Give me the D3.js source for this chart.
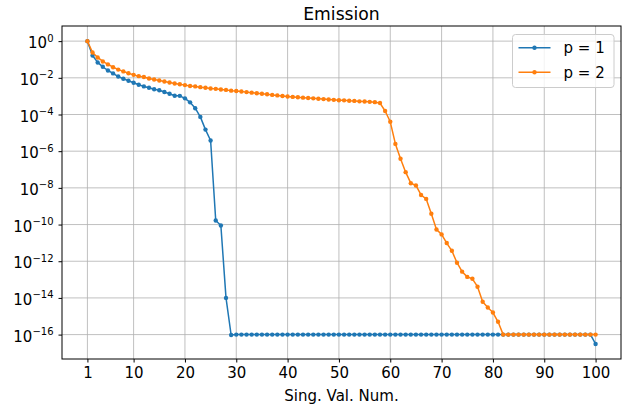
<!DOCTYPE html>
<html>
<head>
<meta charset="utf-8">
<script src="https://cdn.jsdelivr.net/npm/d3@7"></script>
<style>
  body { margin: 0; background: #fff; }
  svg { display: block; font-family: "DejaVu Sans", sans-serif; }
</style>
</head>
<body>
<div id="chart"></div>
<script>
// singular value index 1..100
const index = d3.range(1, 101);

// p = 1
const p1 = [
  1.0, 1.66e-1, 6.9e-2, 3.98e-2, 2.51e-2, 1.74e-2, 1.17e-2, 8.9e-3, 6.9e-3, 5.4e-3,
  4.2e-3, 3.4e-3, 2.9e-3, 2.4e-3, 2.1e-3, 1.7e-3, 1.35e-3, 1.05e-3, 1.04e-3, 7.6e-4,
  4.6e-4, 2.2e-4, 7.4e-5, 1.5e-5, 3.8e-6, 1.66e-10, 8.9e-11, 1.0e-14, 9.5e-17, 1e-16,
  1e-16, 1e-16, 1e-16, 1e-16, 1e-16, 1e-16, 1e-16, 1e-16, 1e-16, 1e-16,
  1e-16, 1e-16, 1e-16, 1e-16, 1e-16, 1e-16, 1e-16, 1e-16, 1e-16, 1e-16,
  1e-16, 1e-16, 1e-16, 1e-16, 1e-16, 1e-16, 1e-16, 1e-16, 1e-16, 1e-16,
  1e-16, 1e-16, 1e-16, 1e-16, 1e-16, 1e-16, 1e-16, 1e-16, 1e-16, 1e-16,
  1e-16, 1e-16, 1e-16, 1e-16, 1e-16, 1e-16, 1e-16, 1e-16, 1e-16, 1e-16,
  1e-16, 1e-16, 1e-16, 1e-16, 1e-16, 1e-16, 1e-16, 1e-16, 1e-16, 1e-16,
  1e-16, 1e-16, 1e-16, 1e-16, 1e-16, 1e-16, 1e-16, 1e-16, 1e-16, 3.1e-17
];

// p = 2
const p2 = [
  1.0, 2.4e-1, 1.29e-1, 7.8e-2, 5.4e-2, 3.8e-2, 2.8e-2, 2.24e-2, 1.78e-2, 1.45e-2,
  1.23e-2, 1.1e-2, 9.1e-3, 8.1e-3, 7.1e-3, 6.3e-3, 5.6e-3, 4.9e-3, 4.5e-3, 4.0e-3,
  3.6e-3, 3.4e-3, 3.1e-3, 2.9e-3, 2.6e-3, 2.5e-3, 2.3e-3, 2.2e-3, 2.0e-3, 1.9e-3,
  1.8e-3, 1.66e-3, 1.55e-3, 1.45e-3, 1.35e-3, 1.26e-3, 1.17e-3, 1.1e-3, 1.02e-3, 9.5e-4,
  9.1e-4, 8.7e-4, 8.3e-4, 7.9e-4, 7.6e-4, 7.2e-4, 6.9e-4, 6.6e-4, 6.3e-4, 6.0e-4,
  5.9e-4, 5.6e-4, 5.5e-4, 5.2e-4, 5.1e-4, 4.9e-4, 4.7e-4, 4.2e-4, 1.55e-4, 4.0e-5,
  2.5e-6, 3.9e-7, 7.2e-8, 1.8e-8, 1.35e-8, 4.1e-9, 2.5e-9, 3.9e-10, 5.4e-11, 2.9e-11,
  9.8e-12, 3.7e-12, 8.3e-13, 2.7e-13, 1.4e-13, 1.1e-13, 4.1e-14, 6.2e-15, 3.0e-15, 1.6e-15,
  5.0e-16, 1e-16, 1e-16, 1e-16, 1e-16, 1e-16, 1e-16, 1e-16, 1e-16, 1e-16,
  1e-16, 1e-16, 1e-16, 1e-16, 1e-16, 1e-16, 1e-16, 1e-16, 1e-16, 1e-16
];

const seriesNames = ["p = 1", "p = 2"];
const colors = ["#1f77b4", "#ff7f0e"];
const xTicks = [1, 10, 20, 30, 40, 50, 60, 70, 80, 90, 100];
const yTickExps = [0, -2, -4, -6, -8, -10, -12, -14, -16];

const width = 629, height = 406;
const margin = { top: 26, right: 8, bottom: 47, left: 62 };

const svg = d3.select("#chart").append("svg")
  .attr("width", width)
  .attr("height", height);

const x = d3.scaleLinear()
  .domain([-3.95, 104.95])
  .range([margin.left, width - margin.right]);

const y = d3.scaleLog()
  .domain([Math.pow(10, -17.33), Math.pow(10, 0.825)])
  .range([height - margin.bottom, margin.top]);

// grid
const grid = svg.append("g").attr("stroke", "#b0b0b0").attr("stroke-width", 0.8);
grid.selectAll(".gx").data(xTicks).join("line")
  .attr("x1", d => x(d)).attr("x2", d => x(d))
  .attr("y1", margin.top).attr("y2", height - margin.bottom);
grid.selectAll(".gy").data(yTickExps).join("line")
  .attr("x1", margin.left).attr("x2", width - margin.right)
  .attr("y1", d => y(Math.pow(10, d))).attr("y2", d => y(Math.pow(10, d)));

// series
const series = [p1, p2].map((vals, i) => ({
  name: seriesNames[i],
  color: colors[i],
  points: vals.map((v, j) => ({ x: index[j], y: v }))
}));

const line = d3.line().x(d => x(d.x)).y(d => y(d.y));

const sg = svg.append("g").selectAll("g").data(series).join("g");
sg.append("path")
  .attr("d", d => line(d.points))
  .attr("fill", "none")
  .attr("stroke", d => d.color)
  .attr("stroke-width", 1.5)
  .attr("stroke-linejoin", "round");
sg.each(function(s) {
  d3.select(this).selectAll("circle").data(s.points).join("circle")
    .attr("cx", d => x(d.x))
    .attr("cy", d => y(d.y))
    .attr("r", 2.2)
    .attr("fill", s.color);
});

// axes
const xAxis = svg.append("g")
  .attr("transform", `translate(0,${height - margin.bottom})`)
  .call(d3.axisBottom(x).tickValues(xTicks).tickSize(3.5).tickPadding(4.5).tickSizeOuter(0));
xAxis.select(".domain").remove();
xAxis.selectAll("text").attr("font-size", 15).attr("font-family", "DejaVu Sans").attr("fill", "#000");

const yAxis = svg.append("g")
  .attr("transform", `translate(${margin.left},0)`)
  .call(d3.axisLeft(y).tickValues(yTickExps.map(e => Math.pow(10, e)))
    .tickSize(3.5).tickPadding(3.5).tickFormat(() => ""));
yAxis.select(".domain").remove();
yAxis.selectAll(".tick").each(function(d) {
  const e = Math.round(Math.log10(d));
  const t = d3.select(this).select("text")
    .attr("font-family", "DejaVu Sans")
    .attr("fill", "#000")
    .attr("dy", null)
    .attr("y", 6.6)
    .attr("x", -8.5);
  t.append("tspan").attr("font-size", 15).text("10");
  t.append("tspan").attr("font-size", 10).attr("dy", -6.6)
    .text(e < 0 ? "\u2212" + (-e) : String(e));
});

// frame
svg.append("rect")
  .attr("x", margin.left).attr("y", margin.top)
  .attr("width", width - margin.left - margin.right)
  .attr("height", height - margin.top - margin.bottom)
  .attr("fill", "none").attr("stroke", "#000").attr("stroke-width", 1);

// title & label
svg.append("text")
  .attr("x", (margin.left + width - margin.right) / 2).attr("y", 20)
  .attr("text-anchor", "middle").attr("font-size", 17.2)
  .text("Emission");
svg.append("text")
  .attr("x", (margin.left + width - margin.right) / 2).attr("y", 400.5)
  .attr("text-anchor", "middle").attr("font-size", 15)
  .text("Sing. Val. Num.");

// legend
const lg = svg.append("g").attr("transform", "translate(512.5,34.5)");
lg.append("rect")
  .attr("width", 101.5).attr("height", 53)
  .attr("rx", 3)
  .attr("fill", "#fff").attr("fill-opacity", 0.8)
  .attr("stroke", "#cccccc");
const items = lg.selectAll(".item").data(series).join("g")
  .attr("transform", (d, i) => `translate(0,${13.2 + i * 24.6})`);
items.append("line")
  .attr("x1", 6).attr("x2", 38)
  .attr("stroke", d => d.color).attr("stroke-width", 1.5);
items.append("circle").attr("cx", 22).attr("r", 2.2).attr("fill", d => d.color);
items.append("text")
  .attr("x", 51).attr("dy", "0.36em")
  .attr("font-size", 15)
  .text(d => d.name);
</script>
</body>
</html>
